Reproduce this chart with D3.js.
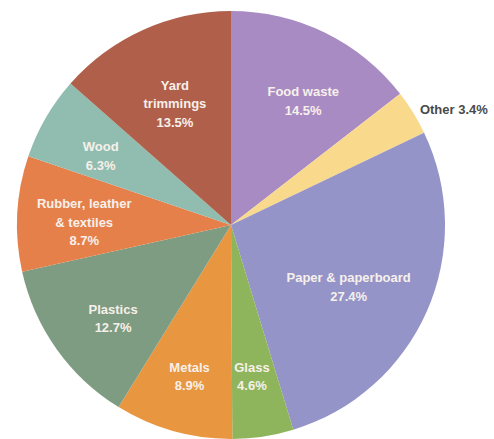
<!DOCTYPE html>
<html>
<head>
<meta charset="utf-8">
<script src="https://cdn.jsdelivr.net/npm/d3@7"></script>
<style>
  body { margin: 0; background: #fff; }
  svg { display: block; }
</style>
</head>
<body>
<svg id="chart" width="494" height="439"></svg>
<script>
// Data
let categories = ["Food waste", "Other", "Paper & paperboard", "Glass", "Metals",
    "Plastics", "Rubber, leather & textiles", "Wood", "Yard trimmings"];
let shares = [14.5, 3.4, 27.4, 4.6, 8.9, 12.7, 8.7, 6.3, 13.5];
let labelLines = [
    ["Food waste", "14.5%"],
    ["Other 3.4%"],
    ["Paper & paperboard", "27.4%"],
    ["Glass", "4.6%"],
    ["Metals", "8.9%"],
    ["Plastics", "12.7%"],
    ["Rubber, leather", "& textiles", "8.7%"],
    ["Wood", "6.3%"],
    ["Yard", "trimmings", "13.5%"]
];

// Colors
let colors = ["#a98bc4", "#f9d98c", "#9594c8", "#8eb55b", "#e8963f",
    "#7e9c81", "#e6804b", "#90bdb0", "#b0604a"];

// Layout
let width = 494, height = 439;
let cx = 231, cy = 225, radius = 214;
let lineGap = 18.5;
// small hand nudges so labels sit like the original
let labelNudge = [[8, 7], [0, 1], [-16, 3], [-1, 7], [-2, 11], [1, 9], [-1, 5], [-4, 4], [4, 12]];

let svg = d3.select("#chart");
let g = svg.append("g").attr("transform", `translate(${cx},${cy})`);

let pie = d3.pie().sort(null).value(d => d);
let arcs = pie(shares);

let arc = d3.arc().innerRadius(0).outerRadius(radius);
let labelArc = d3.arc().innerRadius(146).outerRadius(146);
let outerArc = d3.arc().innerRadius(222).outerRadius(222);

g.selectAll("path.slice")
    .data(arcs)
    .enter()
    .append("path")
    .attr("class", "slice")
    .attr("d", arc)
    .attr("fill", (d, i) => colors[i]);

// Labels
let labels = g.selectAll("text.label")
    .data(arcs)
    .enter()
    .append("text")
    .attr("class", "label")
    .attr("transform", (d, i) => {
        let c = (categories[i] === "Other") ? outerArc.centroid(d) : labelArc.centroid(d);
        return `translate(${c[0] + labelNudge[i][0]},${c[1] + labelNudge[i][1]})`;
    })
    .attr("text-anchor", (d, i) => categories[i] === "Other" ? "start" : "middle")
    .style("font-family", "'Liberation Sans', Arial, sans-serif")
    .style("font-weight", "bold")
    .style("font-size", "13px")
    .attr("fill", (d, i) => categories[i] === "Other" ? "#4a4a4a" : "#f7f0ea");

labels.each(function (d, i) {
    let lines = labelLines[i];
    let n = lines.length;
    d3.select(this).selectAll("tspan")
        .data(lines)
        .enter()
        .append("tspan")
        .attr("x", 0)
        .attr("y", (t, j) => (j - (n - 1) / 2) * lineGap)
        .attr("dominant-baseline", "central")
        .text(t => t);
});
</script>
</body>
</html>
